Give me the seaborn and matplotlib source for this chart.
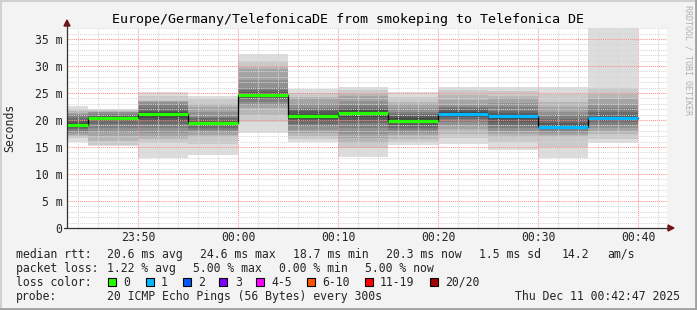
import matplotlib
matplotlib.use("Agg")
import matplotlib.pyplot as plt
import seaborn as sns
import pandas as pd
from matplotlib.ticker import MultipleLocator, FixedLocator
from matplotlib.lines import Line2D
from matplotlib.patches import Polygon, Rectangle

# ---------------- data (minutes relative to 00:00, values in ms) ----------------
seg_start = [-20, -15, -10, -5, 0, 5, 10, 15, 20, 25, 30, 35]
medians = [19.1, 20.4, 21.1, 19.4, 24.6, 20.7, 21.3, 19.8, 21.1, 20.7, 18.7, 20.3]
losses = [0, 0, 0, 0, 0, 0, 0, 0, 1, 1, 1, 1]
pings = [
    [16.0, 16.6, 17.0, 17.2, 17.6, 17.9, 18.3, 18.6, 18.9, 19.0, 19.2, 19.5, 19.8, 20.4, 20.9, 21.2, 21.3, 21.6, 22.0, 22.6],
    [15.2, 15.4, 16.2, 17.0, 17.8, 18.6, 19.3, 19.8, 20.1, 20.3, 20.4, 20.6, 20.8, 21.0, 21.2, 21.4, 21.5, 21.6, 21.8, 22.0],
    [12.9, 15.8, 16.4, 16.8, 17.6, 18.5, 19.2, 19.8, 20.4, 20.9, 21.3, 21.4, 21.6, 22.2, 23.0, 23.4, 23.5, 23.6, 24.4, 25.1],
    [13.6, 15.5, 16.8, 17.2, 17.7, 18.1, 18.5, 18.9, 19.2, 19.3, 19.5, 19.7, 20.0, 20.4, 20.6, 21.5, 22.5, 23.0, 23.8, 24.5],
    [17.6, 19.7, 21.0, 22.3, 22.8, 23.3, 23.8, 24.1, 24.4, 24.5, 24.7, 24.9, 25.2, 25.6, 25.9, 27.5, 29.4, 29.9, 31.0, 32.3],
    [15.9, 16.5, 17.0, 17.6, 18.2, 18.8, 19.3, 19.8, 20.2, 20.5, 20.9, 21.2, 21.6, 22.0, 22.2, 23.0, 24.0, 24.3, 25.0, 25.7],
    [13.2, 14.8, 15.8, 16.6, 17.5, 18.6, 19.4, 20.0, 20.6, 21.1, 21.5, 21.8, 22.0, 22.3, 22.8, 23.6, 24.4, 24.8, 25.5, 26.1],
    [15.4, 15.9, 16.5, 17.2, 17.6, 18.1, 18.6, 19.1, 19.5, 19.7, 19.9, 20.3, 20.7, 21.1, 21.5, 22.2, 22.9, 23.4, 24.3, 25.1],
    [15.6, 16.6, 17.5, 18.4, 19.1, 19.6, 20.1, 20.5, 20.8, 21.1, 21.4, 21.8, 22.2, 22.5, 22.8, 23.7, 24.7, 25.5, 26.1],
    [14.4, 16.0, 16.9, 17.5, 17.9, 18.5, 19.1, 19.7, 20.2, 20.7, 21.0, 21.3, 21.6, 22.4, 23.2, 24.0, 24.4, 25.3, 26.2],
    [12.9, 15.0, 16.9, 17.2, 17.6, 18.0, 18.3, 18.5, 18.6, 18.7, 19.0, 19.5, 20.2, 21.0, 21.5, 22.4, 23.4, 24.8, 26.1],
    [15.8, 16.4, 17.4, 18.0, 18.5, 19.1, 19.6, 19.9, 20.1, 20.3, 20.5, 20.9, 21.5, 22.2, 22.8, 23.8, 24.8, 25.9, 37.1],
]
x_ticks = [-10, 0, 10, 20, 30, 40]
x_labels = ["23:50", "00:00", "00:10", "00:20", "00:30", "00:40"]
y_ticks = [0, 5, 10, 15, 20, 25, 30, 35]
y_labels = ["0", "5 m", "10 m", "15 m", "20 m", "25 m", "30 m", "35 m"]
loss_names = ["0", "1", "2", "3", "4-5", "6-10", "11-19", "20/20"]
loss_colors = ["#26ff00", "#00b8ff", "#0059ff", "#7e00ff", "#ff00ff", "#ff5500", "#ff0000", "#a10000"]
title = "Europe/Germany/TelefonicaDE from smokeping to Telefonica DE"

# ---------------- figure ----------------
W, H = 697, 310
MONO = "DejaVu Sans Mono"
sns.set_style("white")
plt.rcParams["font.family"] = [MONO]

fig = plt.figure(figsize=(W / 100, H / 100), dpi=100, facecolor="#f3f3f3")

def fx(x):
    return x / W

def fy(y):
    return 1 - y / H

x0, x1, ytop, ybot = 67, 667, 28, 228
ax = fig.add_axes([fx(x0), fy(ybot), (x1 - x0) / W, (ybot - ytop) / H])
ax.set_facecolor("white")
xmin = -17.1
ax.set_xlim(xmin, xmin + 60)
ax.set_ylim(0, 37.04)

# smoke
for s, pl in zip(seg_start, pings):
    p = sorted(pl)
    n = len(p)
    for k in range(n // 2):
        g = int(190 / 10 * (10 - (k + 1))) + 50
        c = "#%02x%02x%02x" % (g, g, g)
        ax.bar(s, p[n - 1 - k] - p[k], bottom=p[k], width=5, align="edge",
               color=c, linewidth=0, zorder=1)

# median black step line
df = pd.DataFrame({"t": seg_start + [seg_start[-1] + 5], "m": medians + [medians[-1]]})
sns.lineplot(data=df, x="t", y="m", drawstyle="steps-post", color="#000000",
             lw=0.9, estimator=None, ax=ax, zorder=3)
# loss-coloured median segments
for s, m, l in zip(seg_start, medians, losses):
    ax.hlines(m, s, s + 5, color=loss_colors[l], lw=2.3, zorder=4)

# grid
ax.set_axisbelow(False)
ax.xaxis.set_major_locator(FixedLocator(x_ticks))
ax.xaxis.set_minor_locator(MultipleLocator(2))
ax.yaxis.set_major_locator(FixedLocator(y_ticks))
ax.yaxis.set_minor_locator(MultipleLocator(1))
ax.grid(which="minor", color="#d6d6d6", lw=0.75, ls=(0, (1, 1)), zorder=2)
ax.grid(which="major", color="#ff8c8c", lw=0.75, ls=(0, (1, 1)), zorder=2.1)
ax.set_xticklabels(x_labels)
ax.set_yticklabels(y_labels)
ax.tick_params(which="major", length=3, width=0.8, direction="inout", color="#444444",
               labelsize=8.3, pad=2)
ax.tick_params(which="minor", length=0)
ax.tick_params(axis="x", pad=1)
ax.set_xlabel("")
ax.set_ylabel("")
for sp in ax.spines.values():
    sp.set_visible(False)

# axis lines + arrows
fig.add_artist(Line2D([fx(x0), fx(x0)], [fy(ybot), fy(22)], color="#333333", lw=0.9))
fig.add_artist(Line2D([fx(x0 - 3), fx(670)], [fy(ybot), fy(ybot)], color="#333333", lw=0.9))
fig.add_artist(Polygon([[fx(64), fy(26)], [fx(70), fy(26)], [fx(67), fy(20)]],
                       closed=True, color="#7a1010", transform=fig.transFigure))
fig.add_artist(Polygon([[fx(668), fy(225)], [fx(668), fy(231)], [fx(674), fy(228)]],
                       closed=True, color="#7a1010", transform=fig.transFigure))

# frame
fig.add_artist(Line2D([0, 1], [fy(1), fy(1)], color="#d0d0d0", lw=1.5))
fig.add_artist(Line2D([fx(1), fx(1)], [0, 1], color="#d0d0d0", lw=1.5))
fig.add_artist(Line2D([0, 1], [fy(308.5), fy(308.5)], color="#a0a0a0", lw=2))
fig.add_artist(Line2D([fx(695.5), fx(695.5)], [0, 1], color="#a0a0a0", lw=2))

# titles
fig.text(fx(347.5), fy(19), title, ha="center", va="center", fontsize=9.6, color="#000000")
fig.text(fx(10), fy(128), "Seconds", rotation=90, ha="center", va="center", fontsize=8.3)
fig.text(fx(688), fy(5), "RRDTOOL / TOBI OETIKER", rotation=270, ha="center", va="top",
         fontsize=6.0, color="#b0b0b0")

# legend text
FS = 8.3
def t(x, y, s, **kw):
    fig.text(fx(x), fy(y), s, ha=kw.pop("ha", "left"), va="center", fontsize=FS, **kw)

y1, y2, y3, y4 = 254.3, 268.3, 282.3, 296.3
t(16, y1, "median rtt:")
t(107, y1, "20.6 ms avg")
t(200, y1, "24.6 ms max")
t(293, y1, "18.7 ms min")
t(386, y1, "20.3 ms now")
t(479, y1, "1.5 ms sd")
t(562, y1, "14.2")
t(607, y1, "am/s")
t(16, y2, "packet loss:")
t(107, y2, "1.22 % avg")
t(193, y2, "5.00 % max")
t(279, y2, "0.00 % min")
t(365, y2, "5.00 % now")
t(16, y3, "loss color:")
box_x = [108, 146, 183, 219, 256, 307, 365, 430]
lab_x = [123, 161, 198, 235, 271, 322, 380, 445]
for bx, lx, name, col in zip(box_x, lab_x, loss_names, loss_colors):
    fig.add_artist(Rectangle((fx(bx), fy(y3 + 4)), 8 / W, 8 / H, transform=fig.transFigure,
                             facecolor=col, edgecolor="#000000", lw=0.8))
    t(lx, y3, name)
t(16, y4, "probe:")
t(107, y4, "20 ICMP Echo Pings (56 Bytes) every 300s")
t(680, y4, "Thu Dec 11 00:42:47 2025", ha="right")

fig.savefig("out.png", dpi=100, facecolor=fig.get_facecolor())
